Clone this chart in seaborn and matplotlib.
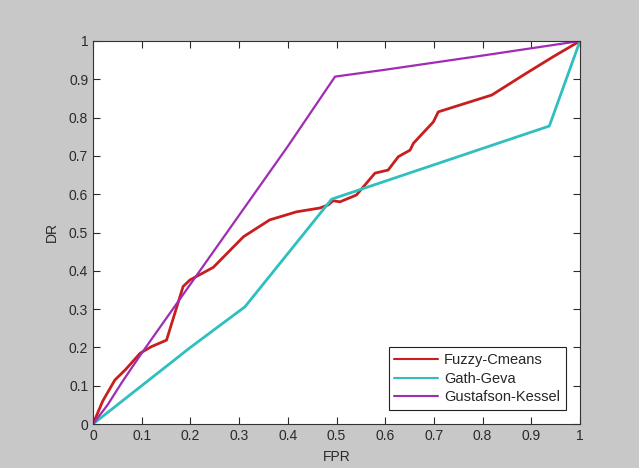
import pandas as pd
import matplotlib
matplotlib.use('Agg')
import matplotlib.pyplot as plt
import seaborn as sns

# ROC-like curves, values
fcm_fpr = [0, 0.02, 0.045, 0.066, 0.097, 0.12, 0.151, 0.185, 0.199, 0.247, 0.309, 0.363, 0.418,
           0.466, 0.483, 0.493, 0.507, 0.541, 0.579, 0.606, 0.627, 0.651, 0.658, 0.699, 0.709,
           0.819, 0.89, 0.945, 1.0]
fcm_dr = [0, 0.06, 0.115, 0.141, 0.185, 0.202, 0.219, 0.359, 0.376, 0.409, 0.489, 0.533, 0.554,
          0.564, 0.572, 0.583, 0.58, 0.598, 0.655, 0.663, 0.698, 0.715, 0.733, 0.789, 0.815,
          0.859, 0.916, 0.959, 1.0]

gg_fpr = [0, 0.1, 0.2, 0.312, 0.49, 0.937, 1.0]
gg_dr = [0, 0.1, 0.2, 0.306, 0.587, 0.778, 1.0]

gk_fpr = [0, 0.03, 0.06, 0.1, 0.2, 0.3, 0.4, 0.497, 0.6, 0.8, 1.0]
gk_dr = [0, 0.05, 0.11, 0.185, 0.365, 0.545, 0.725, 0.907, 0.925, 0.962, 1.0]

names = ['Fuzzy-Cmeans', 'Gath-Geva', 'Gustafson-Kessel']
colors = ['#c81e1e', '#2fbfbf', '#a02cb4']

df = pd.concat([
    pd.DataFrame({'FPR': fcm_fpr, 'DR': fcm_dr, 'method': names[0]}),
    pd.DataFrame({'FPR': gg_fpr, 'DR': gg_dr, 'method': names[1]}),
    pd.DataFrame({'FPR': gk_fpr, 'DR': gk_dr, 'method': names[2]}),
])

sns.set_style('ticks')
plt.rcParams['font.family'] = ['Liberation Sans', 'DejaVu Sans']

fig = plt.figure(figsize=(6.39, 4.68), dpi=100, facecolor='#c8c8c8')
ax = fig.add_axes([93/639, 44/468, 487/639, 383/468])

sns.lineplot(data=df, x='FPR', y='DR', hue='method', palette=dict(zip(names, colors)),
             estimator=None, sort=False, ax=ax, linewidth=2)
for ln in ax.get_lines()[2:3]:
    ln.set_linewidth(1.6)

ax.set_xlim(0, 1)
ax.set_ylim(0, 1)
ax.set_xticks([i/10 for i in range(11)])
ax.set_yticks([i/10 for i in range(11)])
ax.set_xticklabels(['0', '0.1', '0.2', '0.3', '0.4', '0.5', '0.6', '0.7', '0.8', '0.9', '1'])
ax.set_yticklabels(['0', '0.1', '0.2', '0.3', '0.4', '0.5', '0.6', '0.7', '0.8', '0.9', '1'])
ax.tick_params(direction='in', top=True, right=True, length=5, width=0.8, labelsize=10, colors='#2a2a2a')
for s in ax.spines.values():
    s.set_visible(True)
    s.set_color('#333333')
    s.set_linewidth(0.8)
ax.set_facecolor('white')
ax.set_xlabel('FPR', fontsize=10, labelpad=5, color='#2a2a2a')
ax.set_ylabel('DR', fontsize=10, labelpad=7, color='#2a2a2a')

leg = ax.legend(loc='lower right', bbox_to_anchor=(0.986, 0.018), fontsize=10.5, fancybox=False,
                framealpha=1, edgecolor='#222222', handlelength=3.0, handletextpad=0.4,
                borderpad=0.4, labelspacing=0.3)
leg.get_frame().set_linewidth(0.8)
for ln in leg.get_lines():
    ln.set_linewidth(1.5)

fig.savefig('out.png', dpi=100, facecolor=fig.get_facecolor())
